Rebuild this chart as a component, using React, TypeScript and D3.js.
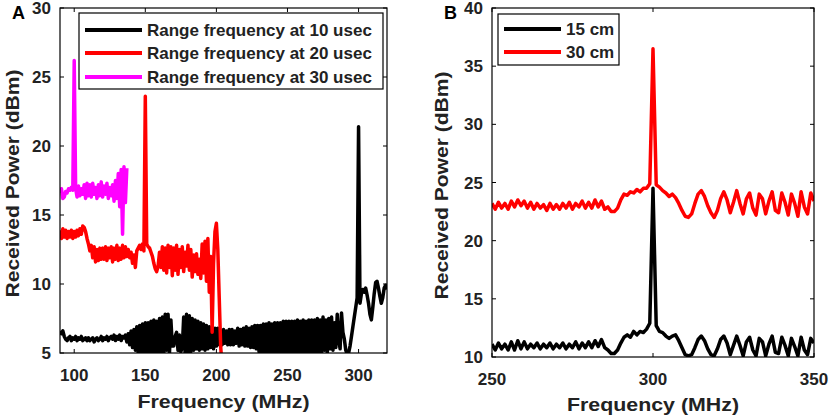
import React from "react"
import * as d3 from "d3"

// Panel A: received power, 1 MHz steps from 90 MHz
const aBlackStart = 90
const aBlack = [
  6.6, 6.4, 6.6, 6.2, 6.0, 5.9, 6.1, 6.2, 5.9, 6.1,
  6.0, 6.2, 5.9, 6.1, 6.0, 6.2, 5.9, 6.0, 6.1, 5.9,
  6.1, 5.9, 6.0, 6.1, 5.8, 6.0, 6.1, 5.9, 6.0, 6.2,
  5.9, 6.1, 6.0, 6.2, 5.9, 6.1, 6.2, 6.0, 6.3, 5.9,
  6.2, 6.0, 6.3, 5.9, 6.2, 6.1, 6.3, 5.8, 6.4, 5.6,
  6.6, 5.4, 6.7, 5.2, 6.9, 5.0, 7.0, 5.0, 7.1, 5.0,
  7.2, 5.0, 7.2, 5.0, 7.3, 5.0, 7.4, 5.0, 7.3, 5.0,
  7.5, 5.0, 7.6, 5.0, 7.8, 5.2, 7.8, 5.0, 7.4, 5.5,
  5.5, 6.2, 6.5, 5.2, 6.3, 5.1, 5.4, 7.6, 5.0, 7.8,
  5.0, 7.7, 5.1, 7.5, 5.2, 7.4, 5.3, 7.3, 5.2, 7.2,
  5.3, 7.1, 5.2, 7.0, 5.3, 6.9, 5.4, 6.9, 5.3, 6.8,
  5.5, 6.8, 5.6, 6.6, 5.6, 6.7, 5.7, 6.6, 5.6, 6.7,
  5.6, 6.7, 5.6, 6.6, 5.7, 6.8, 5.5, 6.7, 5.6, 6.8,
  5.5, 6.9, 5.5, 6.8, 5.4, 6.9, 5.4, 7.0, 5.3, 7.0,
  5.1, 7.0, 5.0, 7.1, 5.0, 7.1, 5.0, 7.2, 5.0, 7.1,
  5.0, 7.2, 5.0, 7.2, 5.0, 7.2, 5.1, 7.3, 5.0, 7.3,
  5.0, 7.3, 5.1, 7.3, 5.0, 7.3, 5.0, 7.4, 5.1, 7.3,
  5.0, 7.4, 5.0, 7.3, 5.1, 7.4, 5.0, 7.4, 4.9, 7.4,
  5.0, 7.5, 5.1, 7.4, 5.0, 7.6, 5.2, 7.4, 5.0, 7.5,
  5.3, 7.6, 5.2, 7.2, 5.4, 7.8, 6.0, 5.3, 7.9, 6.5,
  6.0, 5.2, 4.9, 5.0, 5.5, 6.2, 6.9, 7.6, 8.3, 9.0,
  21.4,
  8.6, 9.3, 9.6, 9.4, 9.7, 9.2, 8.6, 7.8, 7.4, 8.3,
  9.3, 10.1, 10.2, 9.7, 9.1, 8.6, 9.0, 9.7, 9.9, 9.6,
]

const aRedStart = 90
const aRed = [
  13.9, 13.3, 14.0, 13.4, 13.9, 13.3, 13.8, 13.4, 13.9, 13.3,
  13.8, 13.4, 13.9, 13.5, 14.0, 13.6, 14.2, 14.1, 13.8, 13.3,
  12.9, 12.4, 12.8, 11.9, 12.7, 11.6, 12.5, 11.7, 12.6, 11.8,
  12.6, 11.8, 12.7, 11.7, 12.6, 11.9, 12.7, 11.6, 12.6, 11.8,
  12.8, 11.7, 12.6, 11.8, 12.8, 11.9, 12.7, 12.0, 12.5, 11.9,
  12.3, 11.5, 12.1, 11.2, 12.4, 12.6, 12.8, 12.5, 12.9, 12.4,
  23.6,
  12.9, 12.7, 12.6, 12.3, 12.0, 11.5, 11.1, 10.9, 11.3,
  12.3, 11.2, 12.7, 11.0, 12.6, 10.8, 12.8, 11.2, 12.7, 10.6,
  12.6, 11.0, 12.8, 10.7, 12.5, 11.2, 12.7, 10.9, 12.3, 11.3,
  12.8, 11.0, 12.5, 10.5, 12.1, 10.9, 12.2, 10.7, 11.8, 10.4,
  12.9, 10.8, 13.1, 10.2, 13.3, 9.4, 12.0, 6.5, 11.5, 13.8,
  14.4, 12.5, 9.0, 5.5, 4.0,
]

const aMagentaStart = 90
const aMagenta = [
  16.6, 16.9, 16.2, 16.3, 16.7, 16.6, 16.9, 16.8, 17.0, 16.8,
  26.2,
  16.9, 16.3, 17.1, 16.4, 16.9, 16.5, 17.2, 16.2, 17.3, 16.4,
  17.2, 16.3, 17.3, 16.5, 17.0, 16.2, 17.2, 16.4, 17.4, 16.3,
  17.1, 16.5, 17.3, 16.2, 17.0, 16.4, 17.2, 16.0, 17.5, 16.2,
  18.0, 15.6, 18.3, 13.6, 18.5, 15.9, 18.4,
]

// Panel B: 1 MHz steps from 250 MHz
const bStart = 250
const bBlack = [
  11.1, 10.6, 11.2, 10.7, 11.1, 10.6, 11.3, 10.6, 11.4, 10.7,
  11.3, 10.7, 11.1, 10.8, 11.2, 10.7, 11.1, 10.8, 11.2, 10.7,
  11.1, 10.8, 11.2, 10.7, 11.1, 10.8, 11.3, 10.7, 11.2, 10.8,
  11.3, 10.8, 11.4, 10.9, 11.5, 10.8, 10.6, 10.3, 10.3, 10.6,
  11.2, 11.7, 11.9, 11.7, 12.2, 11.9, 12.2, 12.1, 12.4, 12.9,
  24.5,
  12.7, 12.2, 12.1, 11.8, 11.6, 11.8, 11.9, 11.4, 10.8, 10.2,
  10.1, 10.2, 10.8, 11.5, 11.8, 11.4, 10.7, 10.2, 10.1, 10.7,
  11.5, 11.8, 11.2, 10.2, 11.0, 11.8, 11.0, 10.1, 11.3, 11.7,
  10.6, 10.1, 11.6, 11.3, 10.1, 11.1, 11.8, 10.4, 10.3, 11.7,
  11.0, 10.1, 11.6, 10.9, 10.1, 11.7, 10.6, 10.2, 11.6, 11.2,
]
const bRed = [
  23.2, 22.7, 23.3, 22.8, 23.2, 22.7, 23.4, 22.9, 23.5, 23.0,
  23.4, 22.8, 23.3, 22.7, 23.2, 22.8, 23.1, 22.6, 23.2, 22.7,
  23.1, 22.7, 23.2, 22.8, 23.3, 22.7, 23.2, 22.9, 23.4, 22.8,
  23.3, 22.8, 23.5, 22.9, 23.4, 22.7, 22.9, 22.5, 22.5, 22.8,
  23.5, 24.0, 23.9, 24.2, 24.1, 24.4, 24.2, 24.5, 24.5, 24.9,
  36.5,
  24.8, 24.6, 24.3, 24.1, 23.8, 24.0, 23.7, 23.2, 22.6, 22.1,
  22.0, 22.3, 23.2, 24.0, 24.3, 23.8, 23.0, 22.4, 22.0, 22.6,
  23.6, 24.2, 23.5, 22.4, 23.3, 24.3, 23.2, 22.3, 23.6, 24.1,
  22.8, 22.2, 24.0, 23.6, 22.3, 23.4, 24.2, 22.6, 22.4, 24.1,
  23.3, 22.2, 24.0, 23.2, 22.1, 24.2, 22.9, 22.3, 24.1, 23.4,
]

const aXTicks = [100, 150, 200, 250, 300]
const aYTicks = [5, 10, 15, 20, 25, 30]
const bXTicks = [250, 300, 350]
const bYTicks = [10, 15, 20, 25, 30, 35, 40]

const aLegend = ["Range frequency at 10 usec", "Range frequency at 20 usec", "Range frequency at 30 usec"]
const bLegend = ["15 cm", "30 cm"]

const FONT = "'Liberation Sans', Arial, Helvetica, sans-serif"

type Series = { start: number; values: number[]; color: string }

function Panel(props: {
  id: string
  letter: string
  x0: number
  x1: number
  y0: number
  y1: number
  xDomain: [number, number]
  yDomain: [number, number]
  xTicks: number[]
  yTicks: number[]
  series: Series[]
  legend: { labels: string[]; colors: string[]; box: [number, number, number, number]; rows: number[] }
  yTitleX: number
  tickBase: number
  titleBase: number
}) {
  const { x0, x1, y0, y1 } = props
  const x = d3.scaleLinear().domain(props.xDomain).range([x0, x1])
  const y = d3.scaleLinear().domain(props.yDomain).range([y1, y0])

  const paths = props.series.map((s) => {
    const l = d3
      .line<number>()
      .x((_, i) => x(s.start + i))
      .y((d) => y(d))
    return l(s.values) || ""
  })

  const [lx, ly, lw, lh] = props.legend.box
  return (
    <g>
      <defs>
        <clipPath id={`clip-${props.id}`}>
          <rect x={x0} y={y0} width={x1 - x0} height={y1 - y0} />
        </clipPath>
      </defs>
      <g clipPath={`url(#clip-${props.id})`}>
        {paths.map((d, i) => (
          <path key={i} d={d} fill="none" stroke={props.series[i].color} strokeWidth={3.5} strokeLinejoin="round" />
        ))}
      </g>
      <rect x={x0} y={y0} width={x1 - x0} height={y1 - y0} fill="none" stroke="#000" strokeWidth={1.2} />
      {props.xTicks.map((t) => (
        <g key={"x" + t}>
          <line x1={x(t)} x2={x(t)} y1={y1} y2={y1 - 4} stroke="#000" />
          <line x1={x(t)} x2={x(t)} y1={y0} y2={y0 + 4} stroke="#000" />
          <text x={x(t)} y={props.tickBase} textAnchor="middle" fontSize={17} fontWeight="bold" fill="#222">
            {t}
          </text>
        </g>
      ))}
      {props.yTicks.map((t) => (
        <g key={"y" + t}>
          <line x1={x0} x2={x0 + 4} y1={y(t)} y2={y(t)} stroke="#000" />
          <line x1={x1} x2={x1 - 4} y1={y(t)} y2={y(t)} stroke="#000" />
          <text x={x0 - 9} y={y(t) + 6} textAnchor="end" fontSize={17} fontWeight="bold" fill="#222">
            {t}
          </text>
        </g>
      ))}
      <text
        x={(x0 + x1) / 2}
        y={props.titleBase}
        textAnchor="middle"
        fontSize={19}
        fontWeight="bold"
        fill="#222"
        textLength={172}
        lengthAdjust="spacingAndGlyphs"
      >
        Frequency (MHz)
      </text>
      <text
        transform={`translate(${props.yTitleX},${(y0 + y1) / 2 + 3}) rotate(-90)`}
        textAnchor="middle"
        fontSize={19}
        fontWeight="bold"
        fill="#222"
        textLength={228}
        lengthAdjust="spacingAndGlyphs"
      >
        Received Power (dBm)
      </text>
      <text x={x0 - 48} y={y0 + 11} fontSize={18} fontWeight="bold" fill="#000">
        {props.letter}
      </text>
      <rect x={lx} y={ly} width={lw} height={lh} fill="#fff" stroke="#000" strokeWidth={1.2} />
      {props.legend.labels.map((lab, i) => (
        <g key={lab}>
          <line
            x1={lx + 6}
            x2={lx + 63}
            y1={props.legend.rows[i]}
            y2={props.legend.rows[i]}
            stroke={props.legend.colors[i]}
            strokeWidth={4}
          />
          <text x={lx + 68} y={props.legend.rows[i] + 6} fontSize={17} fontWeight="bold" fill="#222">
            {lab}
          </text>
        </g>
      ))}
    </g>
  )
}

export default function App() {
  return (
    <svg
      width={830}
      height={419}
      style={{ position: "absolute", left: 0, top: 0, background: "#fff" }}
      fontFamily={FONT}
    >
      <rect width={830} height={419} fill="#fff" />
      <Panel
        id="a"
        letter="A"
        x0={60}
        x1={387}
        y0={8}
        y1={353}
        xDomain={[90, 320]}
        yDomain={[5, 30]}
        xTicks={aXTicks}
        yTicks={aYTicks}
        series={[
          { start: aBlackStart, values: aBlack, color: "#000" },
          { start: aRedStart, values: aRed, color: "#ff0000" },
          { start: aMagentaStart, values: aMagenta, color: "#ff00ff" },
        ]}
        legend={{
          labels: aLegend,
          colors: ["#000", "#ff0000", "#ff00ff"],
          box: [79, 13, 304, 76],
          rows: [30, 53, 77],
        }}
        yTitleX={19}
        tickBase={381}
        titleBase={408}
      />
      <Panel
        id="b"
        letter="B"
        x0={492}
        x1={814}
        y0={8}
        y1={357}
        xDomain={[250, 350]}
        yDomain={[10, 40]}
        xTicks={bXTicks}
        yTicks={bYTicks}
        series={[
          { start: bStart, values: bRed, color: "#ff0000" },
          { start: bStart, values: bBlack, color: "#000" },
        ]}
        legend={{
          labels: bLegend,
          colors: ["#000", "#ff0000"],
          box: [498, 14, 121, 51],
          rows: [29, 52],
        }}
        yTitleX={448}
        tickBase={385}
        titleBase={411}
      />
    </svg>
  )
}
